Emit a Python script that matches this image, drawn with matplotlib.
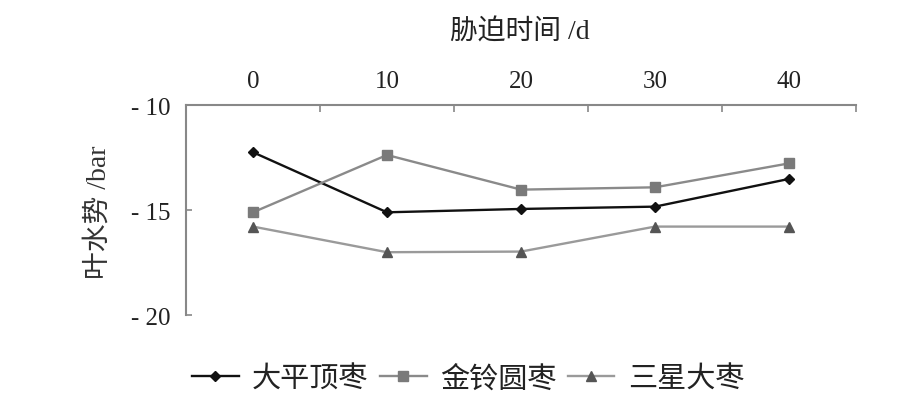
import matplotlib
matplotlib.use("Agg")
import matplotlib.pyplot as plt
from matplotlib.ticker import FixedLocator, FuncFormatter

days = ["0", "10", "20", "30", "40"]
taiping = [-12.25, -15.11, -14.95, -14.84, -13.52]
jinling = [-15.11, -12.38, -14.03, -13.92, -12.78]
sanxing = [-15.79, -17.01, -16.98, -15.79, -15.79]
series_names = ["大平顶枣", "金铃圆枣", "三星大枣"]
yticks = [-20, -15, -10]

FONT = ["Liberation Serif", "Noto Sans CJK SC", "DejaVu Sans"]
plt.rcParams["font.family"] = FONT

W, H = 918, 406
fig = plt.figure(figsize=(W / 100, H / 100), dpi=100)
left, right, top, bottom = 186, 856, 106, 316
ax = fig.add_axes([left / W, 1 - bottom / H, (right - left) / W, (bottom - top) / H])

x = list(range(len(days)))
l1, = ax.plot(x, taiping, color="#111111", lw=1.7, marker="D", ms=5.5,
              mfc="#111111", mec="#111111", label=series_names[0])
l2, = ax.plot(x, jinling, color="#8a8a8a", lw=1.7, marker="s", ms=6.5,
              mfc="#7a7a7a", mec="#7a7a7a", label=series_names[1])
l3, = ax.plot(x, sanxing, color="#9a9a9a", lw=1.7, marker="^", ms=7,
              mfc="#555555", mec="#555555", label=series_names[2])

ax.set_xlim(-0.5, len(days) - 0.5)
ax.set_ylim(-20, -10)

ax.xaxis.tick_top()
ax.set_xticks(x)
ax.set_xticklabels(days)
ax.xaxis.set_minor_locator(FixedLocator([i + 0.5 for i in range(len(days))]))
ax.tick_params(axis="x", which="major", length=0, pad=9, labelsize=18, colors="#222222")
ax.tick_params(axis="x", which="minor", length=5, direction="in", color="#888888", width=1.2)

ax.set_yticks(yticks)
ax.yaxis.set_major_formatter(FuncFormatter(lambda v, p: "- %d" % abs(v)))
ax.tick_params(axis="y", length=4, direction="in", color="#888888", width=1.2,
               labelsize=18, pad=11, labelcolor="#222222")

for s in ["bottom", "right"]:
    ax.spines[s].set_visible(False)
for s in ["top", "left"]:
    ax.spines[s].set_color("#888888")
    ax.spines[s].set_linewidth(1.5)

fig.text(520 / W, 1 - 32 / H, "胁迫时间 /d", ha="center", va="center",
         fontsize=20, color="#222222", family=FONT)
fig.text(99 / W, 1 - 212 / H, "叶水势 /bar", ha="center", va="center",
         rotation=90, fontsize=20, color="#333333", family=FONT)

fig.legend(handles=[l1, l2, l3], loc="center", bbox_to_anchor=(468 / W, 1 - 380 / H),
           ncol=3, frameon=False, fontsize=21, handlelength=1.6,
           handletextpad=0.45, columnspacing=0.4, labelcolor="#222222")

fig.savefig("out.png", dpi=100, facecolor="white")
